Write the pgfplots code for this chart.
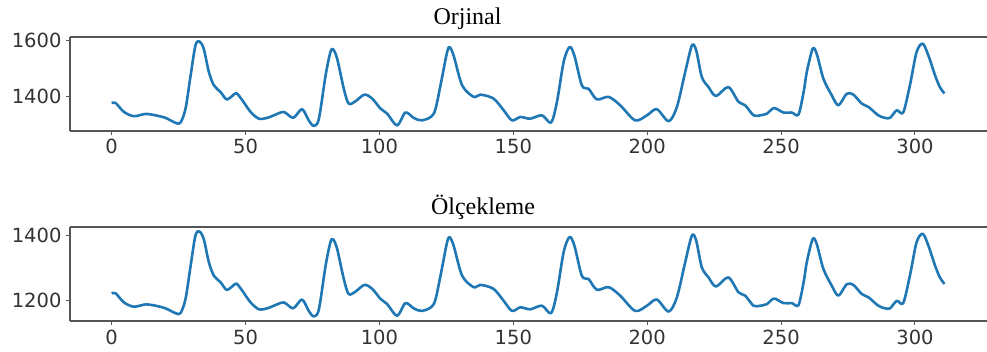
\documentclass[border=0pt]{standalone}
\usepackage{pgfplots}
\pgfplotsset{compat=1.18}
\usepackage{fontspec}
\setmainfont{Liberation Serif}
\newfontfamily\dejavu{DejaVu Sans}
\definecolor{mplblue}{HTML}{1F77B4}
\definecolor{framegray}{HTML}{555555}
\pgfplotsset{
  ecgaxis/.style={
    scale only axis,
    width=917pt, height=94pt,
    anchor=south west,
    xmin=-15.55, xmax=326.9,
    axis x line*=box, axis y line*=left,
    xtick pos=lower, ytick pos=left,
    xtick={0,50,100,150,200,250,300},
    tick align=outside,
    major tick length=4pt,
    every tick/.style={framegray, line width=1pt},
    axis line style={framegray, line width=1.4pt},
    ticklabel style={font=\fontsize{19.5}{20}\dejavu, text=black!80},
    /pgf/number format/assume math mode=true,
    /pgf/number format/set thousands separator={},
    xticklabel style={yshift=-1pt},
    yticklabel style={xshift=-1pt},
    clip=false,
  },
  ecgline/.style={mplblue, line width=2.6pt, smooth, tension=0.5, line join=round},
}
\begin{document}
\begin{tikzpicture}[x=1pt,y=1pt]
\useasboundingbox (0,0) rectangle (987,352);
\node[anchor=base, font=\fontsize{24}{26}\selectfont] at (467.5,327) {Orjinal};
\node[anchor=base, font=\fontsize{24}{26}\selectfont] at (483,137) {Ölçekleme};
\begin{axis}[ecgaxis, at={(70pt,221pt)}, ymin=1276, ymax=1612, ytick={1400,1600}]
\addplot[ecgline] coordinates {
(0,1376) (1.5,1376) (4.6,1344) (8.3,1329) (12.7,1337) (16.4,1332) (20.1,1323) (23.9,1305) (25.7,1306) (27.6,1356) (29.5,1475) (31.3,1582) (32.8,1596) (34.4,1570) (36.3,1487) (38.2,1439) (40.7,1415) (42.9,1389) (45,1401) (46.6,1411) (48.8,1386) (51.9,1344) (55,1320) (58.1,1323) (60.6,1332) (64.3,1344) (67.8,1323) (71.1,1354) (73.6,1314) (75.5,1294) (77.4,1320) (79.9,1475) (81.7,1558) (82.7,1568) (84.2,1535) (86.7,1427) (88.5,1374) (91,1382) (94.4,1406) (97.3,1392) (100.4,1356) (102.9,1338) (106.6,1296) (109.7,1342) (112.8,1323) (115.9,1314) (120.3,1338) (122.8,1439) (125,1546) (126.1,1576) (127.7,1546) (130.9,1439) (135.2,1398) (137.7,1406) (142.6,1392) (146.4,1350) (149.5,1314) (152.6,1326) (156.3,1320) (160.7,1332) (164.1,1306) (166.3,1380) (168.8,1523) (171,1576) (172.8,1546) (175.6,1439) (178.1,1427) (181.2,1389) (185.6,1398) (189.9,1368) (195.5,1314) (199.9,1332) (203.6,1354) (208,1311) (211.1,1362) (214.2,1487) (216.7,1582) (218.3,1564) (220.4,1469) (222.9,1433) (225.7,1401) (230.3,1433) (234.1,1380) (236.6,1368) (239.7,1332) (242.2,1332) (244.7,1338) (247.4,1358) (250.9,1342) (254,1342) (256.5,1335) (258.5,1420) (259.6,1487) (261.8,1570) (263.3,1552) (265.8,1463) (268.9,1404) (271.4,1368) (274.5,1409) (277,1406) (280.1,1374) (282.6,1362) (286.3,1332) (288.8,1323) (290.7,1323) (293.2,1350) (295.6,1342) (298.1,1439) (300.6,1558) (302.9,1588) (305,1546) (307.5,1475) (309.3,1433) (311,1410)
};
\end{axis}
\begin{axis}[ecgaxis, at={(70pt,31pt)}, ymin=1136, ymax=1425, ytick={1200,1400}]
\addplot[ecgline] coordinates {
(0,1221) (1.5,1221) (4.6,1193) (8.3,1180) (12.7,1187) (16.4,1183) (20.1,1175) (23.9,1160) (25.7,1160) (27.6,1204) (29.5,1306) (31.3,1399) (32.8,1411) (34.4,1388) (36.3,1317) (38.2,1275) (40.7,1255) (42.9,1232) (45,1242) (46.6,1251) (48.8,1229) (51.9,1193) (55,1172) (58.1,1175) (60.6,1183) (64.3,1193) (67.8,1175) (71.1,1202) (73.6,1167) (75.5,1150) (77.4,1172) (79.9,1306) (81.7,1378) (82.7,1387) (84.2,1358) (86.7,1265) (88.5,1219) (91,1226) (94.4,1247) (97.3,1235) (100.4,1204) (102.9,1188) (106.6,1152) (109.7,1191) (112.8,1175) (115.9,1167) (120.3,1188) (122.8,1275) (125,1368) (126.1,1394) (127.7,1368) (130.9,1275) (135.2,1240) (137.7,1247) (142.6,1235) (146.4,1198) (149.5,1167) (152.6,1178) (156.3,1172) (160.7,1183) (164.1,1160) (166.3,1224) (168.8,1348) (171,1394) (172.8,1368) (175.6,1275) (178.1,1265) (181.2,1232) (185.6,1240) (189.9,1214) (195.5,1167) (199.9,1183) (203.6,1202) (208,1165) (211.1,1209) (214.2,1317) (216.7,1399) (218.3,1383) (220.4,1301) (222.9,1270) (225.7,1242) (230.3,1270) (234.1,1224) (236.6,1214) (239.7,1183) (242.2,1183) (244.7,1188) (247.4,1205) (250.9,1191) (254,1191) (256.5,1185) (258.5,1259) (259.6,1317) (261.8,1388) (263.3,1373) (265.8,1296) (268.9,1245) (271.4,1214) (274.5,1249) (277,1247) (280.1,1219) (282.6,1209) (286.3,1183) (288.8,1175) (290.7,1175) (293.2,1198) (295.6,1191) (298.1,1275) (300.6,1378) (302.9,1404) (305,1368) (307.5,1306) (309.3,1270) (311,1250)
};
\end{axis}
\end{tikzpicture}
\end{document}
